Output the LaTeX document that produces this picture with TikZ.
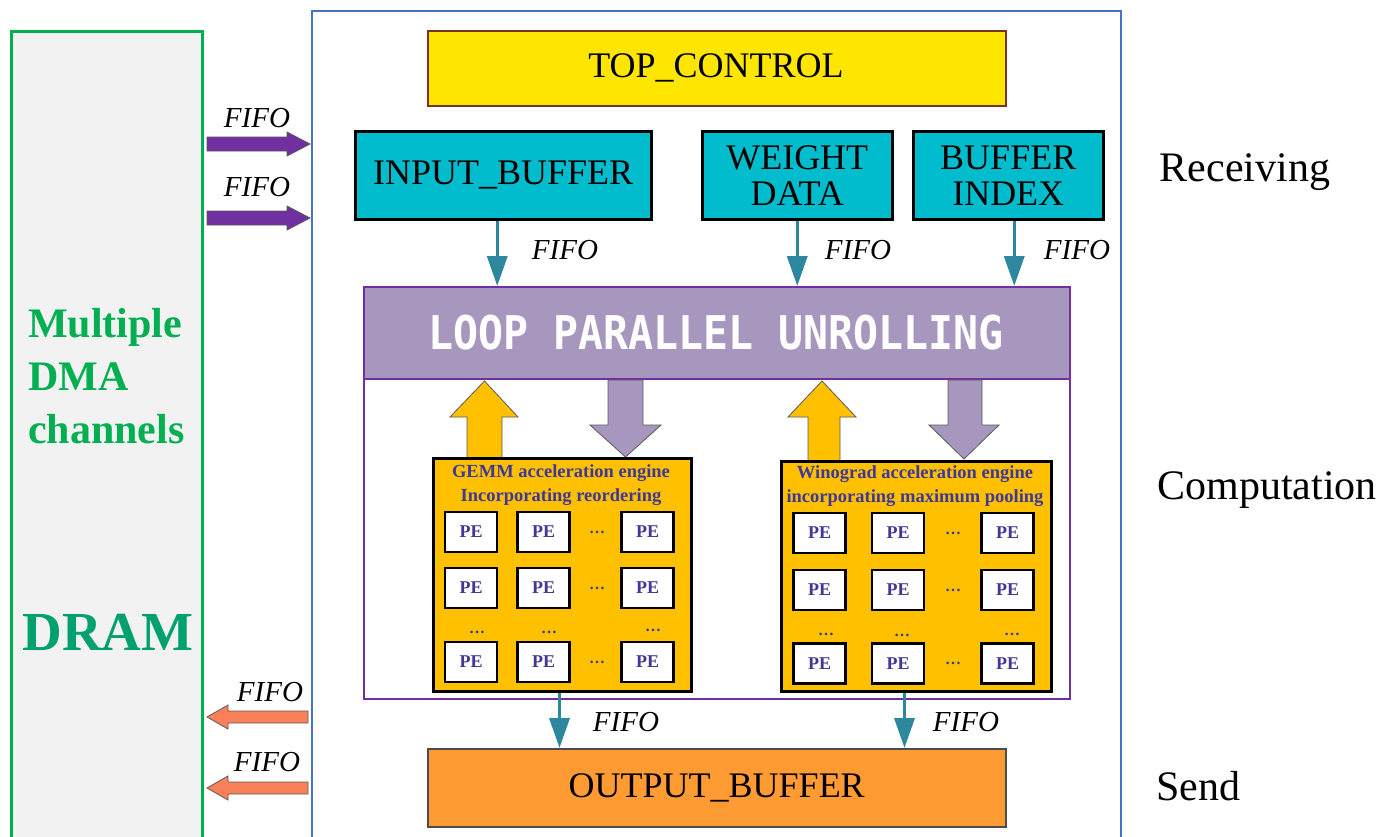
\documentclass[tikz,border=0pt]{standalone}
\usepackage{fontspec}
\setmainfont{Liberation Serif}
\newfontfamily\monof{DejaVu Sans Mono}
\usetikzlibrary{arrows.meta}
\definecolor{cgreen}{RGB}{0,176,80}
\definecolor{cdram}{RGB}{0,160,112}
\definecolor{cgray}{RGB}{242,242,242}
\definecolor{cblue}{RGB}{68,114,196}
\definecolor{cyel}{RGB}{255,230,0}
\definecolor{cbrown}{RGB}{120,50,40}
\definecolor{ccyan}{RGB}{0,188,204}
\definecolor{clav}{RGB}{167,151,191}
\definecolor{cpurple}{RGB}{112,48,160}
\definecolor{cgold}{RGB}{255,192,0}
\definecolor{corange}{RGB}{255,155,50}
\definecolor{cteal}{RGB}{45,135,158}
\definecolor{ccoral}{RGB}{250,128,90}
\definecolor{ctitle}{RGB}{64,56,150}
\begin{document}
\begin{tikzpicture}[x=1pt,y=-1pt,
  boxtext/.style={font=\fontsize{36}{36}\selectfont, align=center, inner sep=0pt},
  cyanbox/.style={boxtext, fill=ccyan, draw=black, line width=2.5pt},
  fifo/.style={font=\fontsize{29}{29}\selectfont\itshape, inner sep=0pt},
  tealarr/.style={draw=cteal, line width=3.5pt, -{Triangle[width=20pt,length=30pt]}},
  engine/.style={fill=cgold, draw=black, line width=3pt, anchor=north west, inner sep=0pt},
  etitle/.style={font=\fontsize{18.5}{24}\selectfont\bfseries, text=ctitle, align=center, inner sep=0pt},
  pe/.style={fill=white, draw=black, line width=2.5pt, minimum width=52, minimum height=40, inner sep=0pt,
    font=\fontsize{18}{18}\selectfont\bfseries, text=ctitle},
  dots/.style={font=\fontsize{16}{16}\selectfont\bfseries, text=ctitle, inner sep=0pt},
  stage/.style={font=\fontsize{42}{42}\selectfont, inner sep=0pt},
  blockarr/.style={draw=black!65, line width=0.8pt}
]
\useasboundingbox (0,0) rectangle (1395,836);
\fill[white] (0,0) rectangle (1395,836);

% DRAM side
\node[fill=cgray, draw=cgreen, line width=2.5pt, minimum width=191, minimum height=830, anchor=north west, inner sep=0pt] (dramside) at (10,30) {};
\node[anchor=west, text=cgreen, font=\fontsize{42}{53}\selectfont\bfseries, align=left, inner sep=0pt] (dma) at (28,376) {Multiple\\DMA\\channels};
\node[text=cdram, font=\fontsize{55}{55}\selectfont\bfseries, inner sep=0pt] (dram) at (108,632) {DRAM};

% main accelerator box
\node[draw=cblue, line width=2pt, minimum width=809, minimum height=850, anchor=north west, inner sep=0pt] (main) at (311,10) {};

% top row
\node[boxtext, fill=cyel, draw=cbrown, line width=2pt, minimum width=578, minimum height=75, anchor=north west] (top) at (427,30) {};
\node[boxtext] (toptext) at (716,68) {TOP\_CONTROL};
\node[cyanbox, minimum width=296, minimum height=88, anchor=north west] (inbuf) at (354,130) {};
\node[boxtext] at (inbuf.center) {INPUT\_BUFFER};
\node[cyanbox, minimum width=190, minimum height=88, anchor=north west] (weight) at (701,130) {};
\node[boxtext] at (weight.center) {WEIGHT\\DATA};
\node[cyanbox, minimum width=190, minimum height=88, anchor=north west] (bindex) at (912,130) {};
\node[boxtext] at (bindex.center) {BUFFER\\INDEX};

% computation region
\node[draw=cpurple, line width=2pt, fill=white, minimum width=706, minimum height=412, anchor=north west, inner sep=0pt] (comp) at (363,286) {};
\node[fill=clav, draw=cpurple, line width=2pt, minimum width=706, minimum height=92, anchor=north west, inner sep=0pt] (loop) at (363,286) {};
\node[font=\monof\bfseries\fontsize{41.5}{41.5}\selectfont, text=white, inner sep=0pt] (looptext) at (716,333) {\scalebox{1}[1.12]{LOOP PARALLEL UNROLLING}};

% FIFO arrows into loop
\draw[tealarr] ([xshift=-6pt]inbuf.south) -- ([xshift=-6pt]inbuf.south |- loop.north);
\draw[tealarr] (weight.south) -- (weight.south |- loop.north);
\draw[tealarr] ([xshift=6pt]bindex.south) -- ([xshift=6pt]bindex.south |- loop.north);
\node[fifo] (f1) at (565,250) {FIFO};
\node[fifo] (f2) at (858,250) {FIFO};
\node[fifo] (f3) at (1077,250) {FIFO};

% block arrows between loop and engines
\draw[blockarr, fill=cgold] (467,458) -- (467,417) -- (450,417) -- (484.5,381) -- (518,417) -- (502,417) -- (502,458) -- cycle;
\draw[blockarr, fill=clav] (608,380) -- (643,380) -- (643,425) -- (661,425) -- (625.5,457) -- (590,425) -- (608,425) -- cycle;
\draw[blockarr, fill=cgold] (808,461) -- (808,417) -- (788,417) -- (822,381) -- (856,417) -- (840,417) -- (840,461) -- cycle;
\draw[blockarr, fill=clav] (948,380) -- (982,380) -- (982,425) -- (999,425) -- (964,459) -- (929,425) -- (948,425) -- cycle;

% engines
\node[engine, minimum width=258, minimum height=233] (gemm) at (432,457) {};
\node[etitle] (gemmt) at (561,485) {GEMM acceleration engine\\Incorporating reordering};
\node[engine, minimum width=270, minimum height=230] (wino) at (780,460) {};
\node[etitle] (winot) at (915,486) {Winograd acceleration engine\\incorporating maximum pooling};

% PEs GEMM
\foreach \r/\y in {1/532,2/588,3/662}{
  \foreach \c/\x in {1/471,2/543.5,3/647.5}{
    \node[pe] (g\r\c) at (\x,\y) {PE};
  }
  \node[dots] (gd\r) at (597,\y) {…};
}
\node[dots] (gv1) at (477,632) {…};
\node[dots] (gv2) at (549,632) {…};
\node[dots] (gv3) at (653,630) {…};

% PEs Winograd
\foreach \r/\y in {1/533,2/590,3/663.5}{
  \foreach \c/\x in {1/819.5,2/898,3/1007.5}{
    \node[pe] (w\r\c) at (\x,\y) {PE};
  }
  \node[dots] (wd\r) at (953,\y) {…};
}
\node[dots] (wv1) at (826,634) {…};
\node[dots] (wv2) at (902,635) {…};
\node[dots] (wv3) at (1012,634) {…};

% output buffer
\node[boxtext, fill=corange, draw=black!70, line width=1.5pt, minimum width=578, minimum height=78, anchor=north west] (outbuf) at (427,748) {};
\node[boxtext] at (outbuf.center) {OUTPUT\_BUFFER};
\draw[tealarr] ([xshift=-3pt]gemm.south) -- ([xshift=-3pt]gemm.south |- outbuf.north);
\draw[tealarr] ([xshift=-12pt]wino.south) -- ([xshift=-12pt]wino.south |- outbuf.north);
\node[fifo] (f4) at (626,722) {FIFO};
\node[fifo] (f5) at (966,722) {FIFO};

% DMA arrows in
\coordinate (in1) at (207,144);
\coordinate (in2) at (207,218);
\foreach \p in {in1,in2}{
  \draw[blockarr, fill=cpurple, shift={(\p)}] (0,-7) -- (80,-7) -- (80,-12) -- (103,0) -- (80,12) -- (80,7) -- (0,7) -- cycle;
}
\node[fifo] (fl1) at (257,118) {FIFO};
\node[fifo] (fl2) at (257,187) {FIFO};

% DMA arrows out
\coordinate (out1) at (207,717);
\coordinate (out2) at (207,788);
\foreach \p in {out1,out2}{
  \draw[blockarr, fill=ccoral, shift={(\p)}] (0,0) -- (21,-12) -- (21,-6) -- (101,-6) -- (101,6) -- (21,6) -- (21,12) -- cycle;
}
\node[fifo] (fl3) at (270,692) {FIFO};
\node[fifo] (fl4) at (267,762) {FIFO};

% stage labels
\node[stage] (recv) at (1245,172) {Receiving};
\node[stage] (compu) at (1267,490) {Computation};
\node[stage] (send) at (1198,786) {Send};
\end{tikzpicture}
\end{document}
